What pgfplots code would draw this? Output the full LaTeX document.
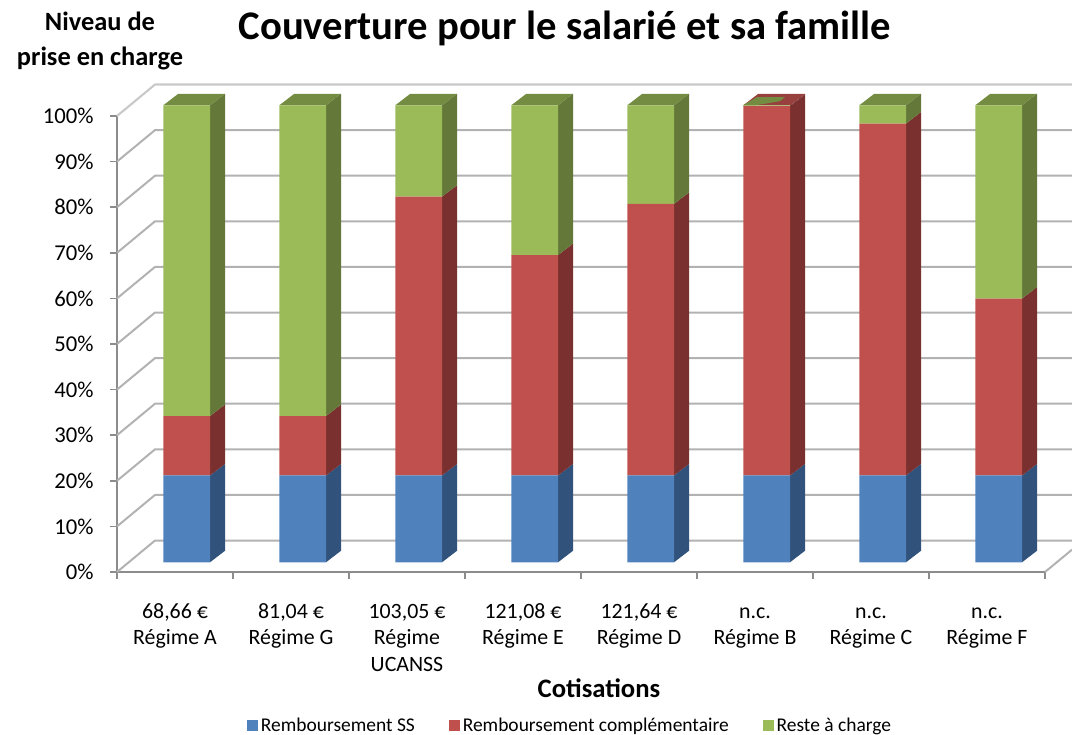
\documentclass[border=0pt]{standalone}
\usepackage{fontspec}
\setmainfont{Carlito}
\usepackage{pgfplots}
\pgfplotsset{compat=1.18}
\definecolor{cBlue}{HTML}{4F81BD}
\definecolor{cRed}{HTML}{C0504D}
\definecolor{cGreen}{HTML}{9BBB59}
\definecolor{sBlue}{HTML}{31527B}
\definecolor{sRed}{HTML}{7A302E}
\definecolor{sGreen}{HTML}{64783A}
\definecolor{tGreen}{HTML}{748C41}
\definecolor{tRed}{HTML}{97403D}
\definecolor{gridc}{HTML}{B2B2B2}
\definecolor{axc}{HTML}{8C8C8C}
% side face of a bar segment: category index, bottom, top, colour
\newcommand\sideface[4]{%
  \pgfmathsetmacro\ra{#1+0.7013}\pgfmathsetmacro\rb{#1+0.8306}%
  \pgfmathsetmacro\ya{#2+2.52}\pgfmathsetmacro\yb{#3+2.52}%
  \edef\tmp{\noexpand\addplot[fill=#4,draw=none] coordinates {(\ra,#2) (\rb,\ya) (\rb,\yb) (\ra,#3)} -- cycle;}\tmp}
\newcommand\topface[2]{%
  \pgfmathsetmacro\la{#1+0.2987}\pgfmathsetmacro\ra{#1+0.7013}\pgfmathsetmacro\rb{#1+0.8306}\pgfmathsetmacro\lb{#1+0.4280}%
  \edef\tmp{\noexpand\addplot[fill=#2,draw=none] coordinates {(\la,100) (\ra,100) (\rb,102.52) (\lb,102.52)} -- cycle;}\tmp}
\newcommand\fs[1]{\fontsize{#1}{#1}\selectfont}
\newcommand\lt{\rule{0pt}{12pt}}
\begin{document}
\begin{tikzpicture}
\useasboundingbox (0,0) rectangle (804pt,551.25pt);
% walls, grid, axes
\begin{axis}[
  at={(87.75pt,122.25pt)},anchor=south west,scale only axis,
  width=696pt,height=342pt,
  xmin=0,xmax=8,ymin=0,ymax=100,clip=false,
  axis x line*=bottom,axis y line*=left,
  axis line style={draw=axc,line width=1.3pt,-},
  tick style={draw=axc,line width=1.1pt},
  tick align=outside,major tick length=5pt,
  xtick={0,1,2,3,4,5,6,7,8},xticklabels={},
  extra x ticks={0.5,1.5,2.5,3.5,4.5,5.5,6.5,7.5},
  extra x tick style={major tick length=0pt,tick style={draw=none}},
  extra x tick labels={{\lt 68,66 €\\Régime A},{\lt 81,04 €\\Régime G},{\lt 103,05 €\\Régime\\UCANSS},{\lt 121,08 €\\Régime E},{\lt 121,64 €\\Régime D},{\lt n.c.\\Régime B},{\lt n.c.\\Régime C},{\lt n.c.\\Régime F}},
  xticklabel style={align=center,anchor=north,yshift=-19pt,font={\fontsize{16.4}{20}\selectfont}},
  ytick={0,10,20,30,40,50,60,70,80,90,100},
  yticklabels={0\%,10\%,20\%,30\%,40\%,50\%,60\%,70\%,80\%,90\%,100\%},
  yticklabel style={anchor=east,font=\fs{17},xshift=-9pt},
]
\addplot[gridc!70,line width=1.6pt] coordinates {(0,100) (0.3276,106.9) (8.233,106.9)};
\addplot[gridc,line width=1.5pt] coordinates {(0,90) (0.3276,96.9) (8.233,96.9)};
\addplot[gridc,line width=1.5pt] coordinates {(0,80) (0.3276,86.9) (8.233,86.9)};
\addplot[gridc,line width=1.5pt] coordinates {(0,70) (0.3276,76.9) (8.233,76.9)};
\addplot[gridc,line width=1.5pt] coordinates {(0,60) (0.3276,66.9) (8.233,66.9)};
\addplot[gridc,line width=1.5pt] coordinates {(0,50) (0.3276,56.9) (8.233,56.9)};
\addplot[gridc,line width=1.5pt] coordinates {(0,40) (0.3276,46.9) (8.233,46.9)};
\addplot[gridc,line width=1.5pt] coordinates {(0,30) (0.3276,36.9) (8.233,36.9)};
\addplot[gridc,line width=1.5pt] coordinates {(0,20) (0.3276,26.9) (8.233,26.9)};
\addplot[gridc,line width=1.5pt] coordinates {(0,10) (0.3276,16.9) (8.233,16.9)};
\addplot[gridc,line width=1.5pt] coordinates {(0,0) (0.3276,6.9) (8.233,6.9)};
\addplot[gridc,line width=1.5pt] coordinates {(8,0) (8.233,4.9)};
\end{axis}
% side and top faces of the bars
\begin{axis}[
  at={(96.49pt,129.53pt)},anchor=south west,scale only axis,
  width=696pt,height=342.75pt,
  xmin=0,xmax=8,ymin=0,ymax=100,clip=false,hide axis,
]
\sideface{0}{0}{19}{sBlue}\sideface{0}{19}{32}{sRed}\sideface{0}{32}{100}{sGreen}\topface{0}{tGreen}
\sideface{1}{0}{19}{sBlue}\sideface{1}{19}{32}{sRed}\sideface{1}{32}{100}{sGreen}\topface{1}{tGreen}
\sideface{2}{0}{19}{sBlue}\sideface{2}{19}{80}{sRed}\sideface{2}{80}{100}{sGreen}\topface{2}{tGreen}
\sideface{3}{0}{19}{sBlue}\sideface{3}{19}{67.2}{sRed}\sideface{3}{67.2}{100}{sGreen}\topface{3}{tGreen}
\sideface{4}{0}{19}{sBlue}\sideface{4}{19}{78.4}{sRed}\sideface{4}{78.4}{100}{sGreen}\topface{4}{tGreen}
\sideface{5}{0}{19}{sBlue}\sideface{5}{19}{99.8}{sRed}\sideface{5}{99.8}{100}{sRed}\topface{5}{tRed}
\sideface{6}{0}{19}{sBlue}\sideface{6}{19}{96}{sRed}\sideface{6}{96}{100}{sGreen}\topface{6}{tGreen}
\sideface{7}{0}{19}{sBlue}\sideface{7}{19}{57.7}{sRed}\sideface{7}{57.7}{100}{sGreen}\topface{7}{tGreen}
\addplot[fill=tGreen,draw=none] coordinates {(5.296,100) (5.417,101.8) (5.658,101.8) (5.615,100.9) (5.503,100.4) (5.40,100)} -- cycle;
\end{axis}
% front faces
\begin{axis}[
  at={(96.49pt,129.53pt)},anchor=south west,scale only axis,
  width=696pt,height=342.75pt,
  xmin=0,xmax=8,ymin=0,ymax=100,clip=false,hide axis,
  ybar stacked,bar width=0.4026,
  legend columns=3,
  legend image code/.code={\fill[#1,draw=none] (0pt,-4.1pt) rectangle (8.4pt,4.1pt);},
  legend style={draw=none,fill=none,at={(0.476,-0.357)},anchor=center,font=\fs{14.6},
    /tikz/every even column/.append style={column sep=23.5pt},
    cells={anchor=west}},
]
\addplot[fill=cBlue,draw=none] coordinates {(0.5,19) (1.5,19) (2.5,19) (3.5,19) (4.5,19) (5.5,19) (6.5,19) (7.5,19)};
\addplot[fill=cRed,draw=none] coordinates {(0.5,13) (1.5,13) (2.5,61) (3.5,48.2) (4.5,59.4) (5.5,80.8) (6.5,77) (7.5,38.7)};
\addplot[fill=cGreen,draw=none] coordinates {(0.5,68) (1.5,68) (2.5,20) (3.5,32.8) (4.5,21.6) (5.5,0.2) (6.5,4) (7.5,42.3)};
\legend{Remboursement SS,Remboursement complémentaire,Reste à charge}
\end{axis}
\begin{scope}[x=0.75pt,y=0.75pt]
\node[font=\bfseries\fs{30.5}] at (565,{735-28}) {Couverture pour le salarié et sa famille};
\node[font=\bfseries\fs{19.8},align=center] at (100,{735-41}) {Niveau de\\[6pt]prise en charge};
\node[font=\bfseries\fs{20}] at (599,{735-688}) {Cotisations};
\end{scope}
\end{tikzpicture}
\end{document}
